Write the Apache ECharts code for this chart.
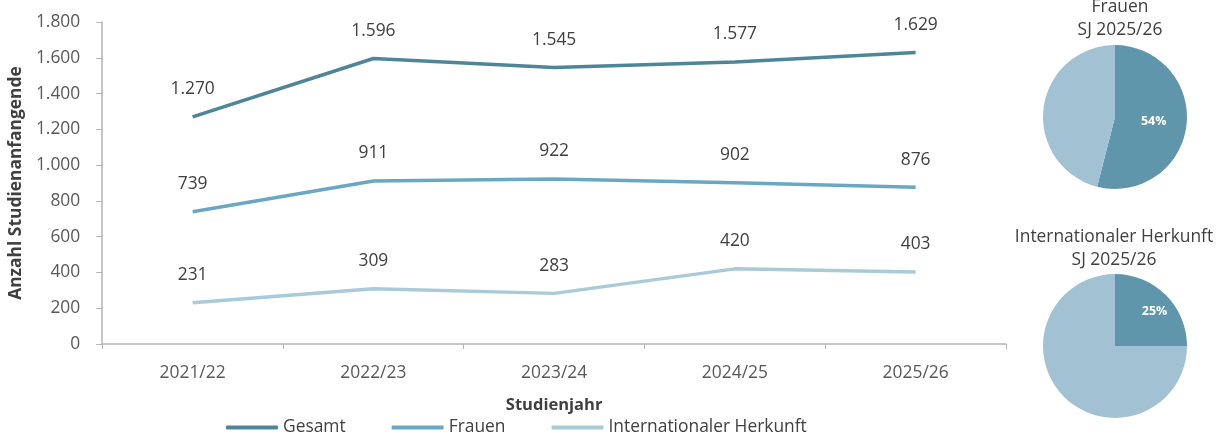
<!DOCTYPE html>
<html><head><meta charset="utf-8">
<script src="https://cdn.jsdelivr.net/npm/echarts@6/dist/echarts.min.js"></script>
<style>html,body{margin:0;padding:0;background:#fff}#c{width:1223px;height:438px}</style>
</head><body><div id="c"></div>
<script>
const categories = ['2021/22','2022/23','2023/24','2024/25','2025/26'];
const gesamt = [1270, 1596, 1545, 1577, 1629];
const frauen = [739, 911, 922, 902, 876];
const international = [231, 309, 283, 420, 403];
const yTicks = { min: 0, max: 1800, interval: 200 };
const pieFrauen = [{name:'Frauen', value:54}, {name:'Männer', value:46}];
const pieIntl = [{name:'Internationaler Herkunft', value:25}, {name:'Sonstige', value:75}];

const FONT = '"Open Sans", "Noto Sans", sans-serif';
const FS = 17.4;
const fmt = v => String(v).replace(/\B(?=(\d{3})+(?!\d))/g, '.');
const colors = ['#4f8598', '#69a7c3', '#a9cad8'];

function lineSeries(name, data, color) {
  return {
    name, type: 'line', data, symbol: 'circle', symbolSize: 0.1, showSymbol: true, smooth: false,
    lineStyle: { width: 3.5, color }, itemStyle: { color },
    labelLayout: { hideOverlap: false },
    label: { show: true, position: 'top', distance: 19, color: '#404040',
      fontFamily: FONT, fontSize: FS, formatter: p => fmt(p.value) }
  };
}

const chart = echarts.init(document.getElementById('c'), null, { renderer: 'canvas' });
chart.setOption({
  animation: false,
  textStyle: { fontFamily: FONT },
  title: [
    { text: 'Frauen\nSJ 2025/26', left: 1115, top: -9, textAlign: 'center',
      textStyle: { fontFamily: FONT, fontSize: FS, fontWeight: 'normal', color: '#404040', lineHeight: 23 } },
    { text: 'Internationaler Herkunft\nSJ 2025/26', left: 1109, top: 221, textAlign: 'center',
      textStyle: { fontFamily: FONT, fontSize: FS, fontWeight: 'normal', color: '#404040', lineHeight: 23 } }
  ],
  legend: {
    data: ['Gesamt','Frauen','Internationaler Herkunft'],
    left: 221, top: 414, itemWidth: 52, itemHeight: 4, itemGap: 46,
    icon: 'roundRect',
    textStyle: { fontFamily: FONT, fontSize: FS, color: '#404040' }
  },
  grid: { left: 99, right: 217, top: 22, bottom: 94, containLabel: false },
  xAxis: {
    type: 'category', data: categories, boundaryGap: true,
    name: 'Studienjahr', nameLocation: 'middle', nameGap: 53,
    nameTextStyle: { fontFamily: FONT, fontSize: 16.5, fontWeight: 'bold', color: '#404040' },
    axisLine: { lineStyle: { color: '#b4b4b4', width: 1.5 } },
    axisTick: { show: true, length: 5, lineStyle: { color: '#b4b4b4' } },
    axisLabel: { fontFamily: FONT, fontSize: FS, color: '#595959', margin: 21 }
  },
  yAxis: {
    type: 'value', min: yTicks.min, max: yTicks.max, interval: yTicks.interval,
    name: 'Anzahl Studienanfangende', nameLocation: 'middle', nameGap: 65, nameRotate: 90,
    nameTextStyle: { fontFamily: FONT, fontSize: 17.4, fontWeight: 'bold', color: '#404040' },
    splitLine: { show: false },
    axisLine: { show: true, lineStyle: { color: '#b4b4b4', width: 1.5 } },
    axisTick: { show: true, length: 6, lineStyle: { color: '#b4b4b4' } },
    axisLabel: { fontFamily: FONT, fontSize: FS, color: '#595959', margin: 22, formatter: v => fmt(v) }
  },
  series: [
    lineSeries('Gesamt', gesamt, colors[0]),
    lineSeries('Frauen', frauen, colors[1]),
    lineSeries('Internationaler Herkunft', international, colors[2]),
    {
      type: 'pie', center: [1115, 117], radius: [0, 72], startAngle: 90, clockwise: true,
      data: pieFrauen, color: ['#6096ac', '#a2c2d3'], legendHoverLink: false,
      label: { show: true, position: 'inside', color: '#fff', fontWeight: 'bold', fontSize: 12.5, fontFamily: FONT,
        formatter: p => p.dataIndex === 0 ? p.value + '%' : '' },
      labelLine: { show: false }, emphasis: { disabled: true }
    },
    {
      type: 'pie', center: [1115, 346], radius: [0, 72], startAngle: 90, clockwise: true,
      data: pieIntl, color: ['#6096ac', '#a2c2d3'], legendHoverLink: false,
      labelLayout: { dx: 12, dy: -7 },
      label: { show: true, position: 'inside', color: '#fff', fontWeight: 'bold', fontSize: 12.5, fontFamily: FONT,
        formatter: p => p.dataIndex === 0 ? p.value + '%' : '' },
      labelLine: { show: false }, emphasis: { disabled: true }
    }
  ]
});
</script></body></html>
